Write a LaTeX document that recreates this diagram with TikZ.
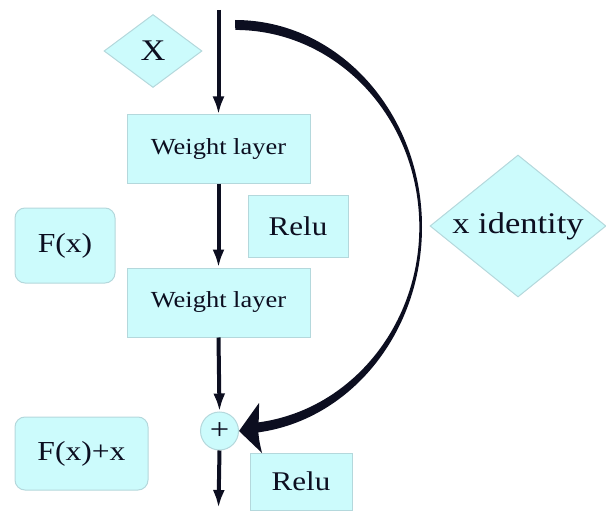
\documentclass[tikz,border=0pt]{standalone}
\usepackage{fontspec}
\setmainfont{Liberation Serif}[FakeStretch=1.15]
\usetikzlibrary{shapes.geometric,arrows.meta}
\definecolor{boxfill}{RGB}{204,251,252}
\definecolor{boxline}{RGB}{180,216,220}
\definecolor{ink}{RGB}{12,14,32}
\begin{document}
\begin{tikzpicture}[x=1pt,y=-1pt,
  box/.style={draw=boxline, fill=boxfill, line width=1pt, inner sep=0pt, text=ink},
  rbox/.style={box, rounded corners=10pt},
  wfont/.style={font=\fontsize{23}{26}\selectfont},
  rfont/.style={font=\fontsize{27}{32}\selectfont},
  varrow/.style={draw=ink, line width=4pt, -{Latex[length=18pt,width=12pt]}, shorten >=0pt}
]
\useasboundingbox (0,0) rectangle (606,511);
% nodes
\node[box, diamond, minimum width=98pt, minimum height=73pt, font=\fontsize{30}{36}\selectfont] (X) at (153,51) {X};
\node[box, minimum width=183pt, minimum height=68pt, wfont] (w1) at (218.5,149) {Weight layer};
\node[box, minimum width=100pt, minimum height=62pt, rfont] (relu1) at (298,226) {Relu};
\node[rbox, minimum width=100pt, minimum height=75pt, font=\fontsize{27.5}{32}\selectfont] (fx) at (65,245.5) {F(x)};
\node[box, minimum width=183pt, minimum height=69pt, wfont] (w2) at (218.5,302.5) {Weight layer};
\node[box, circle, minimum size=38pt, font=\fontsize{30}{34}\selectfont] (plus) at (219.5,431) {+};
\node[rbox, minimum width=133pt, minimum height=73pt, font=\fontsize{27.5}{32}\selectfont] (fxx) at (81.5,453.5) {F(x)+x};
\node[box, minimum width=102pt, minimum height=57pt, rfont] (relu2) at (301,481.5) {Relu};
\node[box, diamond, minimum width=176pt, minimum height=142pt, shape aspect=1.24, font=\fontsize{30}{36}\selectfont] (xid) at (518,226) {x identity};
% coordinates
\coordinate (top) at (218.5,10);
\coordinate (bot) at (218.5,508);
% main path
\draw[varrow] (top) -- (w1.north);
\draw[varrow] (w1.south) -- (w2.north);
\draw[varrow] (w2.south) -- (plus.north);
\draw[varrow] (plus.south) -- (bot);
% identity shortcut (tapered)
\fill[ink] (235,20) arc[start angle=-90, end angle=84, x radius=187, y radius=207]
  -- ++(0,-10) arc[start angle=84, end angle=-90, x radius=184, y radius=197] -- cycle;
\fill[ink] (plus.east) -- (259,403) .. controls (259,418) .. (258,428) .. controls (259,440) .. (262,453) -- cycle;
\end{tikzpicture}
\end{document}
